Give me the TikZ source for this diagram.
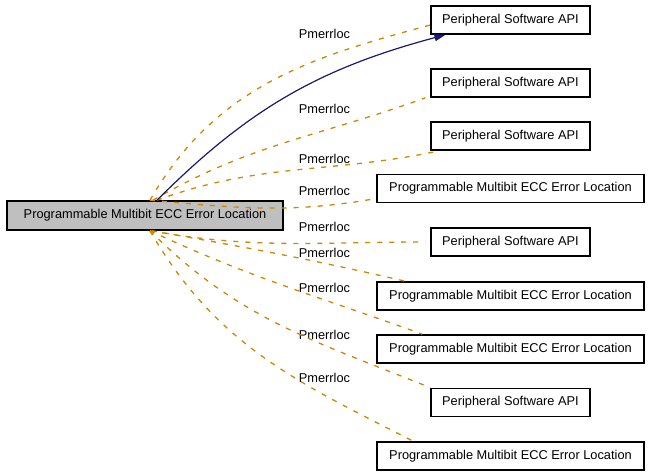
\documentclass[tikz,border=0pt]{standalone}
\usepackage{fontspec}
\setmainfont{Liberation Sans}
\usetikzlibrary{arrows.meta}
\definecolor{edgeorange}{RGB}{205,135,0}
\definecolor{callblue}{RGB}{25,25,112}
\definecolor{boxgray}{RGB}{191,191,191}

\begin{document}
\begin{tikzpicture}[x=1pt,y=1pt,
  every node/.style={font=\fontsize{12.8}{15}\selectfont},
  mod/.style={draw,line width=1.6pt,minimum height=28pt,inner xsep=11pt},
  api/.style={mod,minimum width=157pt},
  ecc/.style={mod,minimum width=267pt},
  use/.style={edgeorange,line width=1.3pt,dash pattern=on 5pt off 7pt},
  lbl/.style={inner sep=1pt}]
\useasboundingbox (0,0) rectangle (651,476);
\node[mod,fill=boxgray,minimum height=29pt,minimum width=276pt] (main) at (145,260.5) {Programmable Multibit ECC Error Location\hspace{10pt}};
\node[api] (t1) at (510.5,456) {Peripheral Software API};
\node[api] (t2) at (510.5,393) {Peripheral Software API};
\node[api] (t3) at (510.5,340) {Peripheral Software API};
\node[ecc] (t4) at (510.5,287.5) {Programmable Multibit ECC Error Location};
\node[api] (t5) at (510.5,234) {Peripheral Software API};
\node[ecc] (t6) at (510.5,180) {Programmable Multibit ECC Error Location};
\node[ecc] (t7) at (510.5,127) {Programmable Multibit ECC Error Location};
\node[api] (t8) at (510.5,73.5) {Peripheral Software API};
\node[ecc] (t9) at (510.5,20) {Programmable Multibit ECC Error Location};
\node[lbl] (l1) at (324.5,442) {Pmerrloc};
\node[lbl] (l2) at (324.5,367.3) {Pmerrloc};
\node[lbl] (l3) at (324.5,317) {Pmerrloc};
\node[lbl] (l4) at (324.5,285) {Pmerrloc};
\node[lbl] (l5) at (324.5,249.3) {Pmerrloc};
\node[lbl] (l6) at (324.5,223.3) {Pmerrloc};
\node[lbl] (l7) at (324.5,188) {Pmerrloc};
\node[lbl] (l8) at (324.5,141) {Pmerrloc};
\node[lbl] (l9) at (324.5,98) {Pmerrloc};
\draw[use] ([xshift=5pt]main.north) to[out=60,in=195] ([yshift=-5pt]t1.west);
\draw[use] ([xshift=8pt]main.north) to[out=30,in=200] ([xshift=-5pt]t2.south west);
\draw[use] ([xshift=12pt]main.north) to[out=20,in=192] ([xshift=9pt]t3.south west);
\draw[use] ([xshift=5pt]main.north) to[out=-5,in=190] ([yshift=-10pt]t4.west);
\draw[use] ([xshift=5pt]main.south) to[out=-10,in=180] ([xshift=-5pt]t5.west);
\draw[use] ([xshift=7pt]main.south) to[out=-10,in=167] ([xshift=29pt]t6.north west);
\draw[use] ([xshift=5pt]main.south) to[out=-25,in=160] ([xshift=46pt]t7.north west);
\draw[use] ([xshift=5pt]main.south) to[out=-45,in=158] (t8.north west);
\draw[use] ([xshift=5pt]main.south) to[out=-60,in=153] ([xshift=37pt]t9.north west);
\draw[callblue,line width=1.2pt,-{Triangle[length=11pt,width=7pt]}] ([xshift=12pt]main.north) to[out=45,in=195] ([xshift=15pt]t1.south west);
\end{tikzpicture}
\end{document}
